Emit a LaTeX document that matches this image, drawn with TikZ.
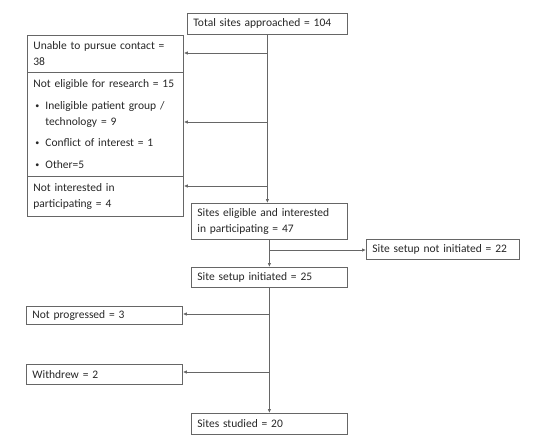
\documentclass[tikz,border=0pt]{standalone}
\usepackage{fontspec}
\setmainfont{Carlito}
\usetikzlibrary{arrows.meta}
\newcommand{\bulletmark}{\hspace*{2pt}\makebox[10pt][l]{\raisebox{1pt}{\fontsize{8}{8}\selectfont\textbullet}}}

\begin{document}
\begin{tikzpicture}[x=1pt, y=-1pt,
  box/.style={draw=black!60, line width=0.8pt, anchor=north west, align=left,
    inner xsep=6pt, inner ysep=0pt, text=black!85,
    font=\fontsize{11.5}{16}\selectfont},
  link/.style={draw=black!60, line width=0.8pt, -{Latex[length=4pt,width=3.5pt]}}]
  \useasboundingbox (0,0) rectangle (542,445);
  % Boxes of the flow
  \node[box, text width=148pt, minimum height=21pt] (total) at (187,13) {Total sites approached = 104};
  \node[box, text width=144pt, minimum height=37pt] (unable) at (27,35) {Unable to pursue contact =\\38};
  \node[box, text width=144pt, minimum height=104pt] (noteli) at (27,72) {\mbox{Not eligible for research = 15}\\[6pt]
    \bulletmark Ineligible patient group /\\
    \hspace*{12pt}technology = 9\\[5pt]
    \bulletmark Conflict of interest = 1\\[6pt]
    \bulletmark Other=5};
  \node[box, text width=144pt, minimum height=40pt] (notint) at (27,176) {Not interested in\\participating = 4};
  \node[box, text width=144pt, minimum height=36pt] (elig) at (191,203) {Sites eligible and interested\\in participating = 47};
  \node[box, text width=141pt, minimum height=20pt] (notinit) at (366,239) {Site setup not initiated = 22};
  \node[box, text width=144pt, minimum height=20pt] (setup) at (191,267) {Site setup initiated = 25};
  \node[box, text width=144pt, minimum height=18pt] (notprog) at (26,306) {Not progressed = 3};
  \node[box, text width=144pt, minimum height=20pt] (withdrew) at (26,364) {Withdrew = 2};
  \node[box, text width=144pt, minimum height=21pt] (studied) at (191,413) {Sites studied = 20};
  % Branch points on the main lines
  \coordinate (b1) at (267,53);
  \coordinate (b2) at (267,122);
  \coordinate (b3) at (267,186);
  \coordinate (b4) at (269,250);
  \coordinate (b5) at (269,314);
  \coordinate (b6) at (269,372);
  % Draw the main lines
  \draw[link] (total.south) -- (total.south |- elig.north);
  \draw[link] (elig.south) -- (setup.north);
  \draw[link] (setup.south) -- (studied.north);
  % Draw the exits
  \draw[link] (b1) -- (b1 -| unable.east);
  \draw[link] (b2) -- (b2 -| noteli.east);
  \draw[link] (b3) -- (b3 -| notint.east);
  \draw[link] (b4) -- (b4 -| notinit.west);
  \draw[link] (b5) -- (b5 -| notprog.east);
  \draw[link] (b6) -- (b6 -| withdrew.east);
\end{tikzpicture}
\end{document}
